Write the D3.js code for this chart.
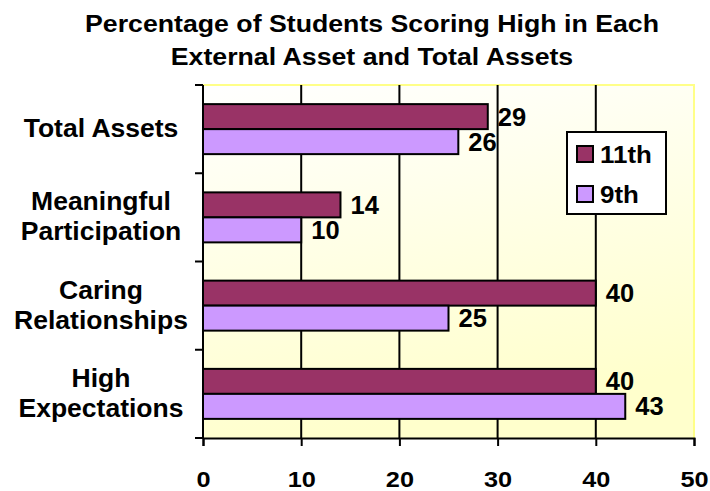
<!DOCTYPE html>
<html>
<head>
<meta charset="utf-8">
<script src="https://cdn.jsdelivr.net/npm/d3@7"></script>
<style>
  body { margin: 0; background: #fff; }
  svg text { font-family: Arial, "Liberation Sans", sans-serif; font-weight: bold; fill: #000; }
</style>
</head>
<body>
<svg id="chart" width="710" height="491"></svg>
<script>
const categories = ['Total Assets', 'Meaningful Participation', 'Caring Relationships', 'High Expectations'];
const labelLines = [['Total Assets'], ['Meaningful', 'Participation'], ['Caring', 'Relationships'], ['High', 'Expectations']];
const seriesNames = ['11th', '9th'];
const grade11 = [29, 14, 40, 40];
const grade9 = [26, 10, 25, 43];
const xTicks = [0, 10, 20, 30, 40, 50];
const titleLines = ['Percentage of Students Scoring High in Each', 'External Asset and Total Assets'];
const colors = { '11th': '#993366', '9th': '#CC99FF' };

const svg = d3.select('#chart');
const plotL = 203, plotR = 694, plotT = 85, plotB = 438;

// text in the original is a bit wider than Arial, so stretch horizontally
const place = (x, y, sx) => `translate(${x},${y}) scale(${sx},1)`;

const defs = svg.append('defs');
const grad = defs.append('linearGradient').attr('id', 'bg')
  .attr('x1', 0).attr('y1', 0).attr('x2', 0.25).attr('y2', 1);
grad.append('stop').attr('offset', '0%').attr('stop-color', '#ffffff');
grad.append('stop').attr('offset', '100%').attr('stop-color', '#ffffcc');

const x = d3.scaleLinear().domain([0, 50]).range([plotL, plotR]);
const y = d3.scaleBand().domain(categories).range([plotT, plotB]).padding(0);
const ySub = d3.scaleBand().domain(seriesNames).range([0, y.bandwidth()]).paddingInner(0).paddingOuter(0.765);

svg.append('rect')
  .attr('x', plotL).attr('y', plotT)
  .attr('width', plotR - plotL).attr('height', plotB - plotT)
  .attr('fill', 'url(#bg)');

svg.append('path')
  .attr('d', `M${plotL},${plotT}H${plotR}V${plotB}`)
  .attr('fill', 'none').attr('stroke', '#ffff88').attr('stroke-width', 2);

// gridlines
svg.append('g').selectAll('line')
  .data(xTicks.filter(d => d > 0 && d < 50))
  .join('line')
  .attr('x1', d => x(d)).attr('x2', d => x(d))
  .attr('y1', plotT).attr('y2', plotB)
  .attr('stroke', '#000').attr('stroke-width', 2);

// bars
const rows = categories.map((c, i) => ({ cat: c, values: [
  { s: '11th', v: grade11[i] }, { s: '9th', v: grade9[i] }
] }));

const groups = svg.append('g').selectAll('g')
  .data(rows).join('g')
  .attr('transform', d => `translate(0,${y(d.cat)})`);

groups.selectAll('rect')
  .data(d => d.values).join('rect')
  .attr('x', x(0))
  .attr('y', d => ySub(d.s))
  .attr('width', d => x(d.v) - x(0))
  .attr('height', ySub.bandwidth())
  .attr('fill', d => colors[d.s])
  .attr('stroke', '#000').attr('stroke-width', 2);

groups.selectAll('text')
  .data(d => d.values).join('text')
  .attr('transform', d => place(x(d.v) + 10, ySub(d.s) + ySub.bandwidth() / 2 + 9, 1.02))
  .attr('font-size', 25)
  .text(d => d.v);

// x axis
const xAxis = svg.append('g')
  .attr('transform', `translate(0,${plotB})`)
  .call(d3.axisBottom(x).tickValues(xTicks).tickSize(8).tickPadding(0));
xAxis.select('.domain').attr('stroke-width', 2);
xAxis.selectAll('line').attr('stroke-width', 2);
xAxis.selectAll('text')
  .attr('font-size', 22).attr('font-family', null)
  .attr('dy', null).attr('y', 0)
  .attr('transform', place(0, 49, 1.15));

// y axis
const yAxis = svg.append('g').attr('transform', `translate(${plotL},0)`);
yAxis.append('line')
  .attr('x1', 0).attr('x2', 0).attr('y1', plotT).attr('y2', plotB)
  .attr('stroke', '#000').attr('stroke-width', 2);
const bounds = categories.map(c => y(c)).concat([y(categories[categories.length - 1]) + y.bandwidth()]);
yAxis.selectAll('.tick').data(bounds).join('line')
  .attr('x1', -8).attr('x2', 0)
  .attr('y1', d => d).attr('y2', d => d)
  .attr('stroke', '#000').attr('stroke-width', 2);

// category labels
const catLab = svg.append('g').selectAll('text')
  .data(categories).join('text')
  .attr('text-anchor', 'middle')
  .attr('font-size', 26)
  .attr('transform', place(101, 0, 1.02));
catLab.each(function(c, i) {
  const lines = labelLines[i];
  const cy = y(c) + y.bandwidth() / 2;
  const start = cy + 8 - (lines.length - 1) * 15;
  d3.select(this).selectAll('tspan').data(lines).join('tspan')
    .attr('x', 0)
    .attr('y', (l, j) => start + j * 30)
    .text(l => l);
});

// title
svg.append('g').selectAll('text')
  .data(titleLines).join('text')
  .attr('transform', (d, i) => place(372, 32 + i * 33, 1.09))
  .attr('text-anchor', 'middle')
  .attr('font-size', 24.5)
  .text(d => d);

// legend
const legend = svg.append('g').attr('transform', 'translate(567,132)');
legend.append('rect')
  .attr('width', 99).attr('height', 82)
  .attr('fill', '#fff').attr('stroke', '#000').attr('stroke-width', 2);
const items = legend.selectAll('g.item').data(seriesNames).join('g')
  .attr('class', 'item')
  .attr('transform', (d, i) => `translate(10,${14 + i * 40})`);
items.append('rect')
  .attr('width', 16).attr('height', 16)
  .attr('fill', d => colors[d]).attr('stroke', '#000').attr('stroke-width', 2);
items.append('text')
  .attr('transform', place(23, 17, 1.08))
  .attr('font-size', 24)
  .text(d => d);
</script>
</body>
</html>
